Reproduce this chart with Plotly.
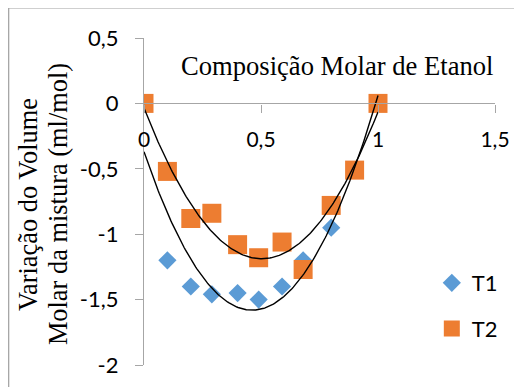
import numpy as np
import plotly.graph_objects as go

# Data
x_t1 = [0, 0.1, 0.2, 0.29, 0.4, 0.49, 0.59, 0.68, 0.8, 1.0]
y_t1 = [0, -1.20, -1.40, -1.46, -1.45, -1.50, -1.40, -1.20, -0.95, 0]

x_t2 = [0, 0.1, 0.2, 0.29, 0.4, 0.49, 0.59, 0.68, 0.8, 0.9, 1.0]
y_t2 = [0, -0.52, -0.88, -0.84, -1.08, -1.18, -1.06, -1.27, -0.78, -0.51, 0]

# Polynomial (order 2) trendline coefficients
trend_t1 = [5.67, -5.24, -0.37]
trend_t2 = [4.55, -4.58, -0.035]

x_ticks = [0, 0.5, 1, 1.5]
x_ticklabels = ["0", "0,5", "1", "1,5"]
y_ticks = [0.5, 0, -0.5, -1, -1.5, -2]
y_ticklabels = ["0,5", "0", "-0,5", "-1", "-1,5", "-2"]

BLUE = "#5B9BD5"
ORANGE = "#ED7D31"
AXIS = "#A6A6A6"
SERIF = "Liberation Serif, Times New Roman, serif"

xs = np.linspace(0, 1, 200)

fig = go.Figure()
fig.add_trace(go.Scatter(x=x_t1, y=y_t1, mode="markers", name="T1",
                         legendgroup="a",
                         marker=dict(symbol="diamond", size=14, color=BLUE)))
fig.add_trace(go.Scatter(x=x_t2, y=y_t2, mode="markers", name="T2",
                         legendgroup="b",
                         marker=dict(symbol="square", size=19, color=ORANGE)))
fig.add_trace(go.Scatter(x=xs, y=np.polyval(trend_t1, xs), mode="lines",
                         line=dict(color="black", width=1.4), showlegend=False, hoverinfo="skip"))
fig.add_trace(go.Scatter(x=xs, y=np.polyval(trend_t2, xs), mode="lines",
                         line=dict(color="black", width=1.4), showlegend=False, hoverinfo="skip"))

fig.update_layout(
    width=514, height=379,
    margin=dict(l=136, r=27, t=30, b=22, autoexpand=False),
    paper_bgcolor="white", plot_bgcolor="white",
    font=dict(family="Lato, Carlito, sans-serif", color="black"),
    xaxis=dict(range=[0, 1.5], tickvals=x_ticks, ticktext=x_ticklabels,
               showgrid=False, zeroline=False, showline=True, linecolor=AXIS, linewidth=1.3,
               ticks="outside", ticklen=8, tickcolor=AXIS, tickwidth=1.3,
               anchor="free", position=0.8, tickfont=dict(size=21),
               ticklabelstandoff=9, automargin=False),
    yaxis=dict(range=[-2, 0.5], tickvals=y_ticks, ticktext=y_ticklabels,
               showgrid=False, zeroline=False, showline=True, linecolor=AXIS, linewidth=1.3,
               ticks="outside", ticklen=8, tickcolor=AXIS, tickwidth=1.3,
               tickfont=dict(size=22), ticklabelstandoff=12, automargin=False),
    legend=dict(x=0.82, y=0.315, xanchor="left", yanchor="top",
                font=dict(size=22), bgcolor="rgba(0,0,0,0)",
                traceorder="grouped", tracegroupgap=14),
    showlegend=True,
)

fig.add_annotation(text="Composição Molar de Etanol", xref="paper", yref="paper",
                   x=0.549, y=0.914, xanchor="center", yanchor="middle", showarrow=False,
                   font=dict(family=SERIF, size=26.6))
fig.add_annotation(text="Variação do Volume", xref="paper", yref="paper",
                   x=-0.3305, y=0.492, xanchor="center", yanchor="middle", showarrow=False,
                   textangle=-90, font=dict(family=SERIF, size=26.4))
fig.add_annotation(text="Molar da mistura (ml/mol)", xref="paper", yref="paper",
                   x=-0.245, y=0.492, xanchor="center", yanchor="middle", showarrow=False,
                   textangle=-90, font=dict(family=SERIF, size=26.4))
fig.add_shape(type="rect", xref="paper", yref="paper",
              x0=-0.3855, x1=1.074, y0=-0.09, y1=1.0918,
              line=dict(color="#A0A0A0", width=1.2), fillcolor="rgba(0,0,0,0)", layer="below")

fig.write_html("out.html")
